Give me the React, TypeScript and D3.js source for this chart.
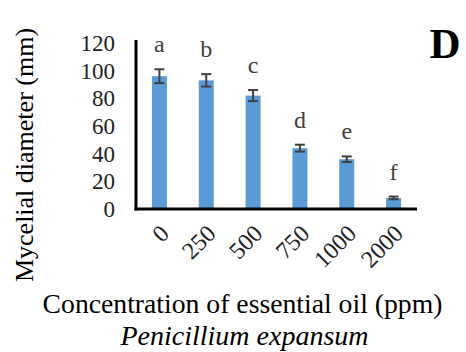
import React, { useEffect, useRef } from 'react';
import * as d3 from 'd3';

const WIDTH = 466;
const HEIGHT = 352;

const concentrations = ['0', '250', '500', '750', '1000', '2000'];
const diameters = [96, 93, 82, 44, 36, 8];
const errors = [5, 4.5, 4, 2.5, 2, 1];
const letters = ['a', 'b', 'c', 'd', 'e', 'f'];
const yTicks = [0, 20, 40, 60, 80, 100, 120];

const margin = { left: 136, right: 49, top: 43, bottom: 143 };
const FONT = 'Liberation Serif';

const App = () => {
  const svgRef = useRef<SVGSVGElement>(null);

  useEffect(() => {
    const svg = d3.select(svgRef.current);
    svg.selectAll('*').remove();

    const x = d3.scaleBand()
      .domain(concentrations)
      .range([margin.left, WIDTH - margin.right])
      .paddingInner(0.68)
      .paddingOuter(0.34);
    const y = d3.scaleLinear()
      .domain([0, 120])
      .range([HEIGHT - margin.bottom, margin.top]);

    const data = concentrations.map((c, i) => ({ c, v: diameters[i], e: errors[i], l: letters[i] }));

    // bars
    svg.append('g')
      .selectAll('rect')
      .data(data)
      .join('rect')
      .attr('x', d => x(d.c)!)
      .attr('y', d => y(d.v))
      .attr('width', x.bandwidth())
      .attr('height', d => y(0) - y(d.v))
      .attr('fill', '#5b9bd5');

    // error bars
    const eb = svg.append('g').attr('stroke', '#404040').attr('stroke-width', 2);
    data.forEach(d => {
      const cx = x(d.c)! + x.bandwidth() / 2;
      eb.append('line').attr('x1', cx).attr('x2', cx).attr('y1', y(d.v + d.e)).attr('y2', y(d.v - d.e));
      [d.v + d.e, d.v - d.e].forEach(v => {
        eb.append('line').attr('x1', cx - 5).attr('x2', cx + 5).attr('y1', y(v)).attr('y2', y(v));
      });
    });

    // significance letters
    svg.append('g')
      .selectAll('text')
      .data(data)
      .join('text')
      .attr('x', d => x(d.c)! + x.bandwidth() / 2)
      .attr('y', d => y(d.v + d.e) - 17)
      .attr('text-anchor', 'middle')
      .style('font-family', FONT)
      .attr('font-size', 24)
      .attr('fill', '#404040')
      .text(d => d.l);

    // y axis
    const yAxis = svg.append('g')
      .attr('transform', `translate(${margin.left},0)`)
      .call(d3.axisLeft(y).tickValues(yTicks).tickSize(0).tickPadding(21));
    yAxis.select('.domain').remove();
    yAxis.selectAll('text')
      .style('font-family', FONT)
      .attr('font-size', 23)
      .attr('fill', '#222');
    svg.append('line')
      .attr('x1', margin.left).attr('x2', margin.left)
      .attr('y1', margin.top - 3).attr('y2', y(0) + 1.5)
      .attr('stroke', '#000').attr('stroke-width', 3);

    // x axis
    const xAxis = svg.append('g')
      .attr('transform', `translate(0,${y(0)})`)
      .call(d3.axisBottom(x).tickSize(0).tickPadding(0));
    xAxis.select('.domain').remove();
    xAxis.selectAll('text')
      .style('font-family', FONT)
      .attr('font-size', 24)
      .attr('fill', '#222')
      .attr('text-anchor', 'end')
      .attr('dy', 0)
      .attr('transform', 'translate(11,26) rotate(-45)');
    svg.append('line')
      .attr('x1', margin.left - 1.5).attr('x2', WIDTH - margin.right)
      .attr('y1', y(0)).attr('y2', y(0))
      .attr('stroke', '#000').attr('stroke-width', 3);

    // titles
    svg.append('text')
      .attr('transform', `translate(33,155) rotate(-90)`)
      .attr('text-anchor', 'middle')
      .style('font-family', FONT)
      .attr('font-size', 26)
      .attr('fill', '#000')
      .text('Mycelial diameter (mm)');

    svg.append('text')
      .attr('x', 242.5).attr('y', 313)
      .attr('text-anchor', 'middle')
      .style('font-family', FONT)
      .attr('font-size', 27.7)
      .attr('fill', '#000')
      .text('Concentration of essential oil (ppm)');

    svg.append('text')
      .attr('x', 244.5).attr('y', 345)
      .attr('text-anchor', 'middle')
      .style('font-family', FONT)
      .attr('font-size', 28)
      .attr('font-style', 'italic')
      .attr('fill', '#000')
      .text('Penicillium expansum');

    svg.append('text')
      .attr('x', 445).attr('y', 58)
      .attr('text-anchor', 'middle')
      .style('font-family', FONT)
      .attr('font-size', 43)
      .attr('font-weight', 'bold')
      .attr('fill', '#000')
      .text('D');
  }, []);

  return (
    <svg
      ref={svgRef}
      width={WIDTH}
      height={HEIGHT}
      style={{ position: 'absolute', left: 0, top: 0, background: '#fff' }}
    />
  );
};

export default App;
